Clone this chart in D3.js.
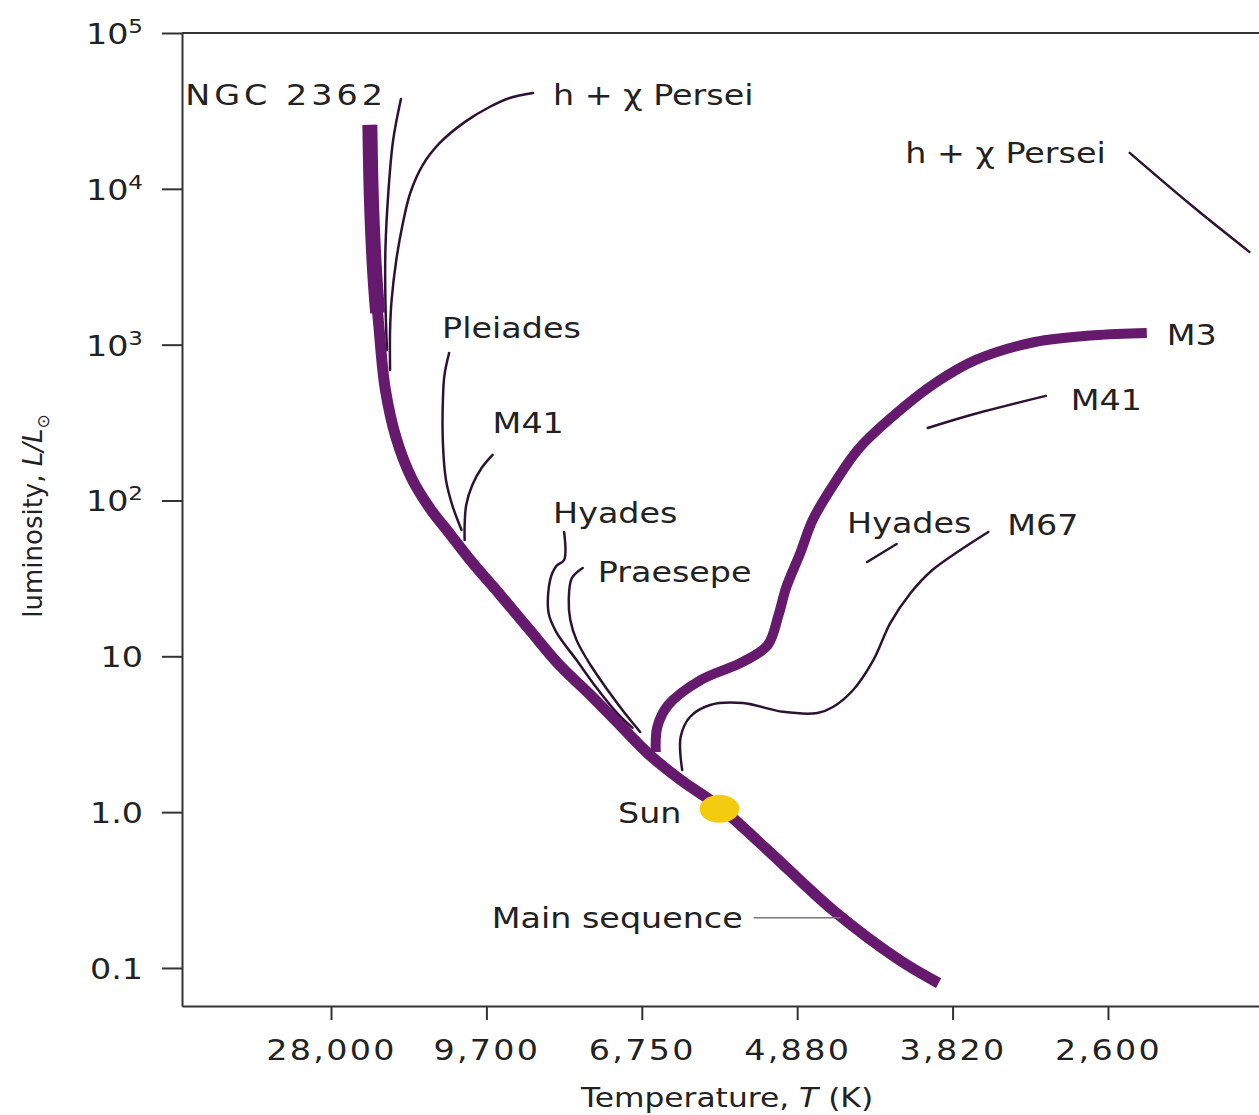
<!DOCTYPE html>
<html>
<head>
<meta charset="utf-8">
<script src="https://cdn.jsdelivr.net/npm/d3@7"></script>
<style>
  body { margin: 0; background: #fff; }
  text { font-family: "DejaVu Sans", sans-serif; fill: #222; }
</style>
</head>
<body>
<div id="hr_diagram"></div>
<script>
// axis ticks: temperature is spaced by spectral class, so x is a tick position
var tempLabels = ["28,000", "9,700", "6,750", "4,880", "3,820", "2,600"];
var lumTicks = [0.1, 1, 10, 100, 1e3, 1e4, 1e5];
var lumLabels = [["0.1", ""], ["1.0", ""], ["10", ""], ["10", "2"], ["10", "3"], ["10", "4"], ["10", "5"]];

// curves: [temperature position (0 = 28,000 K tick), luminosity L/Lsun]
var mainSequence = [[0.25, 25700], [0.26, 8470], [0.28, 3010], [0.31, 1240], [0.35, 512], [0.42, 250],
  [0.52, 138], [0.64, 88], [0.77, 60.1], [0.90, 41], [1.09, 24.7], [1.28, 14.7], [1.47, 8.79],
  [1.67, 5.64], [1.86, 3.62], [2.05, 2.33], [2.25, 1.61], [2.50, 1.08], [2.81, 0.571], [3.23, 0.235],
  [3.66, 0.112], [3.91, 0.080]];
var ngc2362Top = [[0.25, 25700], [0.26, 8470], [0.28, 3010], [0.30, 1600]];
var ngc2362 = [[0.45, 37700], [0.40, 20600], [0.37, 9830], [0.35, 4050], [0.35, 1935], [0.36, 924]];
var persei = [[1.30, 41200], [1.15, 38300], [1.02, 33500], [0.86, 26800], [0.70, 19700], [0.59, 14200],
  [0.51, 9400], [0.46, 5860], [0.42, 3490], [0.39, 1935], [0.38, 1240], [0.38, 687]];
var pleiades = [[0.76, 884], [0.73, 638], [0.72, 441], [0.72, 234], [0.74, 135], [0.78, 93.5], [0.84, 64.7]];
var m41 = [[1.04, 196], [0.97, 162], [0.91, 126], [0.87, 93.5], [0.86, 69.6], [0.86, 55.8]];
var hyades = [[1.50, 62.8], [1.50, 41.5], [1.45, 38.0], [1.41, 30.9], [1.40, 19.0], [1.45, 14.3],
  [1.58, 9.46], [1.71, 6.26], [1.84, 4.33], [1.94, 3.47]];
var praesepe = [[1.62, 36.9], [1.55, 31.8], [1.53, 23.0], [1.54, 17.1], [1.58, 12.7], [1.67, 8.79],
  [1.78, 6.08], [1.89, 4.33], [1.99, 3.27]];
var m3 = [[2.09, 2.43], [2.10, 3.52], [2.17, 4.87], [2.38, 7.05], [2.65, 9.20], [2.81, 11.8], [2.88, 18.4],
  [2.93, 27.8], [3.02, 46.0], [3.10, 75.0], [3.24, 129], [3.40, 217], [3.64, 364], [3.89, 568],
  [4.15, 798], [4.53, 1040], [4.91, 1150], [5.25, 1190]];
var m67 = [[2.26, 1.86], [2.25, 3.03], [2.31, 4.08], [2.44, 4.87], [2.65, 5.01], [2.91, 4.40], [3.13, 4.33],
  [3.23, 4.73], [3.36, 6.08], [3.49, 9.46], [3.60, 16.4], [3.73, 25.5], [3.87, 35.8], [4.05, 48.1], [4.23, 62.8]];
var hyadesGiants = [[3.45, 40.3], [3.64, 52.6]];
var m41Giants = [[3.84, 292], [4.14, 359], [4.60, 469]];
var perseiGiants = [[5.14, 17000], [5.55, 7640], [5.91, 3940]];
var sun = [2.50, 1.05];
var mainSeqPoint = [3.28, 0.21];

// set the dimensions and margins of the graph
var margin = {top: 33, right: 0, bottom: 109, left: 182},
    width = 1259 - margin.left - margin.right,
    height = 1115 - margin.top - margin.bottom;

var svg = d3.select("#hr_diagram")
  .append("svg")
    .attr("width", width + margin.left + margin.right)
    .attr("height", height + margin.top + margin.bottom)
  .append("g")
    .attr("transform", "translate(" + margin.left + "," + margin.top + ")");

var stretch = 1.15;   // the lettering in the original is wide
var ink = "#333";
var purple = "#661a6d";
var dark = "#2d1233";

var x = d3.scaleLinear()
  .domain([-0.959, 5.972])
  .range([0, width]);

var y = d3.scaleLog()
  .domain([0.057, 1e5])
  .range([height, 0]);

// X axis
var xAxis = svg.append("g")
  .attr("transform", "translate(0," + height + ")")
  .call(d3.axisBottom(x).tickValues(d3.range(tempLabels.length)).tickSize(14).tickSizeOuter(0)
    .tickFormat(function(d) { return tempLabels[d]; }));
xAxis.selectAll("text")
  .attr("y", 54).attr("dy", null)
  .attr("font-size", 29).attr("letter-spacing", 2)
  .attr("transform", "scale(" + stretch + ",1)");

// Y axis
var yAxis = svg.append("g")
  .call(d3.axisLeft(y).tickValues(lumTicks).tickSize(20).tickSizeOuter(0).tickFormat(""));
yAxis.selectAll(".tick text")
  .attr("x", -39 / stretch).attr("dy", "0.36em")
  .attr("font-size", 29)
  .attr("transform", "scale(" + stretch + ",1)")
  .each(function(d, i) {
    var t = d3.select(this);
    t.text(lumLabels[i][0]);
    if (lumLabels[i][1]) t.append("tspan").attr("font-size", 20).attr("dy", -11).text(lumLabels[i][1]);
  });
svg.selectAll(".domain, .tick line").attr("stroke", ink).attr("stroke-width", 2);
svg.selectAll(".tick text").style("fill", "#222");

// top frame line
svg.append("line")
  .attr("x1", 0).attr("x2", width)
  .attr("y1", y(1e5)).attr("y2", y(1e5))
  .attr("stroke", ink).attr("stroke-width", 2);

// axis titles
var xTitle = svg.append("text")
  .attr("transform", "translate(" + (727 - margin.left) + "," + (height + 101) + ") scale(1.16,1)")
  .attr("text-anchor", "middle").attr("font-size", 27)
  .text("Temperature, ");
xTitle.append("tspan").style("font-style", "italic").text("T");
xTitle.append("tspan").text(" (K)");

var yTitle = svg.append("text")
  .attr("transform", "translate(" + (42 - margin.left) + "," + (516 - margin.top) + ") rotate(-90)")
  .attr("text-anchor", "middle").attr("font-size", 26)
  .text("luminosity, ");
yTitle.append("tspan").style("font-style", "italic").text("L/L");
yTitle.append("tspan").attr("font-size", 17).attr("dy", 7).text("⊙");

// lines
var line = d3.line()
  .x(function(d) { return x(d[0]); })
  .y(function(d) { return y(d[1]); })
  .curve(d3.curveCatmullRom);

function track(data, color, w, cap) {
  svg.append("path")
    .datum(data)
    .attr("d", line)
    .attr("fill", "none")
    .attr("stroke", color)
    .attr("stroke-width", w)
    .attr("stroke-linejoin", "round")
    .attr("stroke-linecap", cap || "round");
}

[ngc2362, persei, pleiades, m41, hyades, praesepe, m67, hyadesGiants, m41Giants, perseiGiants]
  .forEach(function(d) { track(d, dark, 2.5); });
track(ngc2362Top, purple, 15, "butt");
track(mainSequence, purple, 11, "butt");
track(m3, purple, 10, "butt");

// the Sun
svg.append("ellipse")
  .attr("cx", x(sun[0])).attr("cy", y(sun[1]))
  .attr("rx", 20).attr("ry", 14)
  .attr("fill", "#f3cc10");

// main sequence leader line
svg.append("line")
  .attr("x1", x(mainSeqPoint[0]) - 87).attr("x2", x(mainSeqPoint[0]))
  .attr("y1", y(mainSeqPoint[1])).attr("y2", y(mainSeqPoint[1]))
  .attr("stroke", "#777").attr("stroke-width", 1.5);

// labels, placed relative to a point of their curve
var annotations = [
  {text: "NGC 2362", at: ngc2362[0], dx: -14, dy: 6, anchor: "end", ls: 3.5},
  {text: "h + χ Persei", at: persei[0], dx: 20, dy: 12, anchor: "start"},
  {text: "Pleiades", at: pleiades[0], dx: -7, dy: -15, anchor: "start"},
  {text: "M41", at: m41[0], dx: 0, dy: -22, anchor: "start"},
  {text: "Hyades", at: hyades[0], dx: -11, dy: -9, anchor: "start"},
  {text: "Praesepe", at: praesepe[0], dx: 15, dy: 14, anchor: "start"},
  {text: "M3", at: m3[m3.length - 1], dx: 20, dy: 12, anchor: "start"},
  {text: "M41", at: m41Giants[m41Giants.length - 1], dx: 25, dy: 14, anchor: "start"},
  {text: "Hyades", at: hyadesGiants[0], dx: -20, dy: -29, anchor: "start"},
  {text: "M67", at: m67[m67.length - 1], dx: 19, dy: 3, anchor: "start"},
  {text: "h + χ Persei", at: perseiGiants[0], dx: -24, dy: 10, anchor: "end"},
  {text: "Sun", at: sun, dx: -38, dy: 14, anchor: "end"},
  {text: "Main sequence", at: mainSeqPoint, dx: -98, dy: 10, anchor: "end"}
];

svg.selectAll(".label")
  .data(annotations)
  .enter()
  .append("text")
    .attr("class", "label")
    .attr("font-size", 29)
    .attr("letter-spacing", function(d) { return d.ls || 0; })
    .attr("text-anchor", function(d) { return d.anchor; })
    .attr("transform", function(d) {
      return "translate(" + (x(d.at[0]) + d.dx) + "," + (y(d.at[1]) + d.dy) + ") scale(" + stretch + ",1)";
    })
    .text(function(d) { return d.text; });
</script>
</body>
</html>
